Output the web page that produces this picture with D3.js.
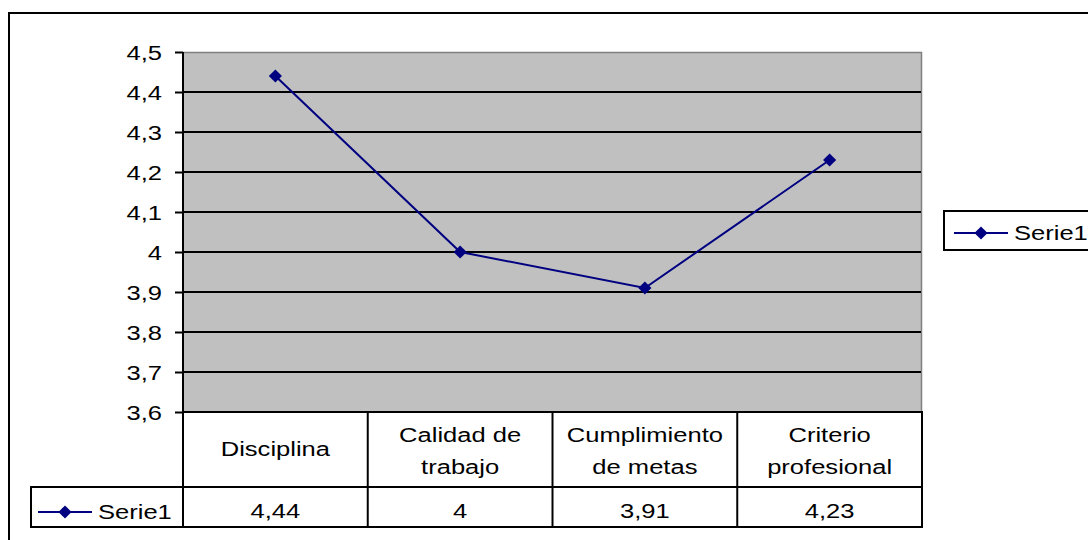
<!DOCTYPE html>
<html>
<head>
<meta charset="utf-8">
<script src="https://cdn.jsdelivr.net/npm/d3@7"></script>
<style>
  body { margin: 0; background: #fff; }
  svg { display: block; font-family: "Liberation Sans", Arial, sans-serif; }
</style>
</head>
<body>
<div id="chart"></div>
<script>
// chart data
const categories = [["Disciplina"], ["Calidad de", "trabajo"], ["Cumplimiento", "de metas"], ["Criterio", "profesional"]];
const values = [4.44, 4, 3.91, 4.23];
const seriesName = "Serie1";
const yTicks = [3.6, 3.7, 3.8, 3.9, 4, 4.1, 4.2, 4.3, 4.4, 4.5];

const width = 1088, height = 540;
const plot = {left: 183, right: 922, top: 52, bottom: 412};
const headRow = 487, valRow = 527, legendLeft = 31;
const navy = "#000080";
const fontSize = 19.5, stretch = 1.31; // the source text is wide, so stretch it
const fmt = v => String(v).replace(".", ",");

const svg = d3.select("#chart").append("svg")
    .attr("width", width)
    .attr("height", height);

// writes a stretched label, anchored at (x, y) baseline
label = (g, x, y, str, anchor = "middle") => g.append("text")
    .attr("transform", `translate(${x},${y}) scale(${stretch},1)`)
    .attr("text-anchor", anchor)
    .attr("font-size", fontSize)
    .attr("fill", "#000")
    .text(str);

// outer frame (runs past the right and bottom edges)
svg.append("rect")
    .attr("x", 9).attr("y", 13)
    .attr("width", 1200).attr("height", 600)
    .attr("fill", "#fff").attr("stroke", "#000").attr("stroke-width", 2);

const x = d3.scaleBand()
    .domain(d3.range(categories.length))
    .range([plot.left, plot.right]);

const y = d3.scaleLinear()
    .domain([3.6, 4.5])
    .range([plot.bottom, plot.top]);

// plot background
svg.append("rect")
    .attr("x", plot.left).attr("y", plot.top)
    .attr("width", plot.right - plot.left).attr("height", plot.bottom - plot.top)
    .attr("fill", "#c0c0c0");
svg.append("path")
    .attr("d", `M${plot.left},${plot.top + 0.5}H${plot.right - 0.5}V${plot.bottom}`)
    .attr("fill", "none").attr("stroke", "#808080").attr("stroke-width", 1.5);

// gridlines
svg.append("g")
    .selectAll("line")
    .data(yTicks.slice(1, -1))
    .enter()
    .append("line")
    .attr("x1", plot.left).attr("x2", plot.right - 1)
    .attr("y1", d => Math.round(y(d))).attr("y2", d => Math.round(y(d)))
    .attr("stroke", "#000").attr("stroke-width", 2);

// y axis
const yAxis = svg.append("g")
    .attr("transform", `translate(${plot.left},0)`)
    .call(d3.axisLeft(y).tickValues(yTicks).tickSize(8).tickFormat(fmt));
yAxis.select(".domain").attr("stroke-width", 2).attr("d", `M0,${plot.top}V${plot.bottom}`);
yAxis.selectAll(".tick line").attr("stroke-width", 2);
yAxis.selectAll(".tick text")
    .attr("x", null).attr("dy", null)
    .attr("transform", `translate(-21,7.5) scale(${stretch},1)`)
    .attr("font-size", fontSize).attr("fill", "#000")
    .attr("font-family", "Liberation Sans, Arial, sans-serif");

// data table
const table = svg.append("g").attr("stroke", "#000").attr("stroke-width", 2).attr("fill", "none");
table.append("path")
    .attr("d", `M${plot.left},${plot.bottom}H${plot.right}V${valRow}H${legendLeft}V${headRow}H${plot.right}`);
table.selectAll(".col")
    .data(d3.range(categories.length))
    .enter()
    .append("line")
    .attr("x1", d => x(d)).attr("x2", d => x(d))
    .attr("y1", plot.bottom).attr("y2", valRow);

const heads = svg.append("g");
categories.forEach((lines, i) => {
    const cx = x(i) + x.bandwidth() / 2;
    const first = lines.length === 1 ? 456 : 442;
    lines.forEach((s, j) => label(heads, cx, first + j * 32, s));
});

const cells = svg.append("g");
values.forEach((v, i) => label(cells, x(i) + x.bandwidth() / 2, 518, fmt(v)));

// legend key helper
const diamond = d3.symbol().type(d3.symbolDiamond2).size(110);
legendKey = (g, x0, cy) => {
    g.append("line")
        .attr("x1", x0).attr("x2", x0 + 54).attr("y1", cy).attr("y2", cy)
        .attr("stroke", navy).attr("stroke-width", 2);
    g.append("path")
        .attr("d", diamond)
        .attr("transform", `translate(${x0 + 27},${cy})`)
        .attr("fill", navy);
    label(g, x0 + 60, cy + 6.5, seriesName, "start");
};
legendKey(svg.append("g"), 38, 512);

// line series
const line = d3.line()
    .x((d, i) => x(i) + x.bandwidth() / 2)
    .y(d => y(d));
svg.append("path")
    .datum(values)
    .attr("d", line)
    .attr("fill", "none")
    .attr("stroke", navy)
    .attr("stroke-width", 2);
svg.append("g")
    .selectAll("path")
    .data(values)
    .enter()
    .append("path")
    .attr("d", diamond)
    .attr("transform", (d, i) => `translate(${x(i) + x.bandwidth() / 2},${y(d)})`)
    .attr("fill", navy);

// right legend
const legend = svg.append("g");
legend.append("rect")
    .attr("x", 944).attr("y", 211)
    .attr("width", 200).attr("height", 39)
    .attr("fill", "#fff").attr("stroke", "#000").attr("stroke-width", 2);
legendKey(legend, 954, 233);
</script>
</body>
</html>
